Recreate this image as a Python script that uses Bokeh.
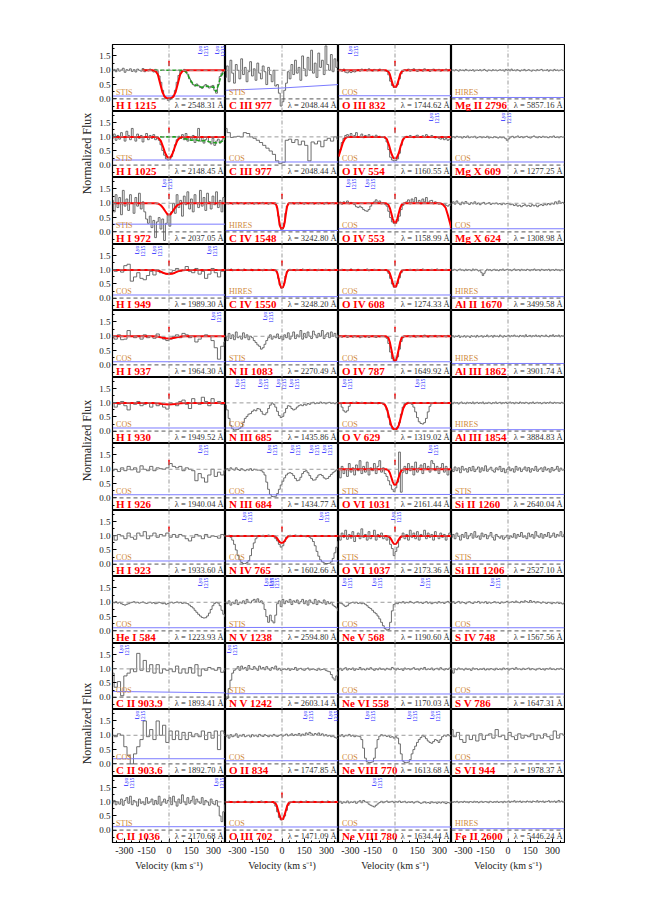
import numpy as np
from bokeh.plotting import figure
from bokeh.layouts import gridplot, row
from bokeh.models import Range1d, FixedTicker, PrintfTickFormatter, Span
from bokeh.core.properties import value
from bokeh.embed import file_html
from bokeh.resources import INLINE

# ---------------- data ----------------
V_MIN, V_MAX = -380, 380
Y_MIN, Y_MAX = -0.44, 1.9
X_TICKS = [-300, -150, 0, 150, 300]
Y_TICKS = [0.0, 0.5, 1.0, 1.5]

# model knot velocities
KN = [-380, -60, -45, -35, -25, -15, -5, 5, 15, 25, 35, 45, 60, 380]
KW = [-380, -90, -70, -55, -40, -25, -10, 10, 25, 40, 55, 70, 90, 380]
KC = [-380, -45, -35, -28, -20, -12, -5, 0, 5, 12, 20, 28, 35, 45, 380]
KB = [-380, -110, -80, -60, -40, -20, 0, 20, 40, 60, 80, 110, 380]
K1215 = [-180, -110, -90, -75, -60, -45, -30, -15, 0, 15, 30, 45, 60, 75, 90, 110, 380]
K554 = [-380, -365, -350, -335, -320, -300, -70, -55, -40, -25, -10, 10, 25, 40, 55, 70, 380]
K553 = [-380, -60, -45, -35, -25, -15, -5, 5, 15, 25, 35, 45, 60, 300, 320, 340, 355, 368, 380]

# row 1
f_h1215 = [0.98,1.03,0.95,1.05,0.97,1.01,1.07,0.93,1.02,0.99,1.05,0.96,1.02,0.94,1.04,1.00,0.97,1.06,0.95,1.01,0.98,1.04,0.99,0.94,1.03,0.97,
           0.80,0.58,0.30,0.10,0.02,-0.05,-0.03,0.05,0.12,0.30,0.58,0.82,0.97,
           0.98,1.03,0.96,0.86,0.70,0.58,0.50,0.45,0.52,0.46,0.40,0.37,0.45,0.50,0.42,0.38,0.44,0.47,0.30,0.20,0.50,0.78,0.90,0.97,1.0]
m_h1215 = [1,1,0.97,0.85,0.55,0.25,0.08,0.03,0.02,0.03,0.08,0.25,0.55,0.85,0.97,1,1]
g_h1215_v = [-180,100,120,140,160,180,200,220,240,260,280,300,315,330,350,370,380]
g_h1215 = [1,1,0.9,0.7,0.53,0.47,0.47,0.40,0.43,0.45,0.40,0.42,0.25,0.45,0.8,0.95,1.0]
f_c977s = [0.75,1.15,0.6,1.35,0.9,0.55,1.2,1.0,0.7,1.4,0.85,1.1,0.6,0.95,1.3,0.8,1.05,0.65,1.25,0.9,0.7,1.15,0.95,0.5,1.1,0.85,0.6,1.0,
           0.45,0.5,0.2,-0.25,-0.1,0.3,0.55,0.95,
           0.7,1.2,0.85,1.35,0.9,1.1,0.65,1.5,1.05,0.8,1.45,1.0,1.7,0.9,1.25,0.75,1.6,1.1,1.35,0.85,1.85,1.2,1.0,1.55,0.95,1.4,1.1,1.3]
f_o832 = [1.0,1.03,0.97,1.04,0.93,0.91,0.95,0.92,0.96,0.94,0.98,1.02,0.97,1.04,0.99,1.03,0.98,1.05,1.0,0.97,1.03,1.0,0.98,1.04,0.99,1.01,
          0.98,0.96,0.84,0.62,0.47,0.40,0.41,0.50,0.70,0.88,0.97,1.01,
          0.98,1.04,0.97,1.02,1.05,0.99,0.96,1.03,1.0,0.97,1.05,0.99,1.02,0.96,1.01,1.04,0.98,1.0,1.03,0.97,1.01,0.99,1.04,0.98,1.02,0.99]
m_o832 = [1,1,0.96,0.86,0.68,0.5,0.42,0.42,0.5,0.68,0.86,0.96,1,1]
f_mg2796 = [0.99,1.01,0.98,1.02,1.0,0.97,1.02,0.99,1.01,0.98,1.03,1.0,0.98,1.01,0.99,1.02,0.97,1.0,1.01,0.99,
            1.02,0.98,1.0,1.03,0.99,0.97,1.01,1.0,0.98,1.02,0.99,1.01,0.98,1.0,1.02,0.99,1.01,0.97,1.03,1.0,
            1.02,0.98,1.04,0.99,1.01,0.98,1.02,1.0,0.97,1.01,0.99,1.03,0.98,1.0,1.02,0.99,0.97,1.01,1.0,0.98,
            1.02,0.99,1.01,1.03,0.98,1.0,0.99,1.02,0.97,1.01,1.0,0.98,1.03,0.99,1.01,0.98,1.0,1.02,0.99,1.0]
# row 2
f_h1025 = [0.95,1.1,0.88,1.05,0.92,1.15,0.98,0.85,1.2,1.05,0.9,1.3,1.0,0.85,1.1,0.95,1.05,0.82,1.0,1.12,0.9,1.05,0.95,1.08,0.9,1.0,
           0.88,0.72,0.52,0.35,0.22,0.18,0.2,0.3,0.5,0.72,0.9,1.02,
           0.95,1.08,0.9,1.12,0.85,1.0,0.92,1.05,0.8,0.95,1.3,0.85,0.98,0.78,0.9,1.0,0.82,0.75,0.95,0.7,0.85,0.92,0.78,0.88,0.95,1.0]
m_h1025 = [1,1,0.96,0.86,0.65,0.42,0.27,0.27,0.42,0.65,0.86,0.96,1,1]
g_h1025_v = [-100,60,90,120,150,180,210,240,270,300,330,360,380]
g_h1025 = [1,1,0.95,0.92,0.88,0.9,0.85,0.87,0.83,0.8,0.78,0.85,0.95]
f_c977c = [1.3,1.15,0.98,1.0,1.02,1.0,1.15,1.12,1.0,0.95,0.88,0.8,0.7,0.6,0.5,0.38,0.15,0.05,0.1,0.88,0.92,0.8,0.9,0.72,0.85,0.7,0.15,0.82,0.75,0.85,0.65,0.88,0.95,0.85,1.0,0.92]
f_o554 = [0.35,0.55,0.8,0.95,1.05,
          1.08,1.0,1.12,0.98,1.05,1.15,1.0,1.02,1.1,0.97,1.05,1.0,1.08,0.98,1.03,1.0,1.06,0.99,1.02,0.98,1.0,
          0.95,0.82,0.55,0.28,0.18,0.15,0.16,0.22,0.42,0.7,0.9,1.0,
          1.02,0.98,1.05,1.0,0.97,1.03,1.06,1.0,0.98,1.04,1.0,1.08,1.02,0.98,1.05,1.0,0.96,0.98,0.95,0.92,0.96,0.9,0.94,0.88,0.92,0.9]
m_o554 = [0.3,0.55,0.8,0.95,1,1,1,0.92,0.7,0.42,0.24,0.24,0.42,0.7,0.92,1,1]
f_mg609 = [0.98,1.01,0.97,1.02,0.99,1.0,0.96,1.01,0.98,1.03,0.97,1.0,0.99,1.02,0.96,0.99,1.01,0.97,1.0,0.98,1.02,0.96,0.99,0.97,1.01,0.98,0.96,1.0,0.97,0.99,0.95,0.88,
           0.93,0.99,1.02,0.97,1.0,1.03,0.98,1.01,0.97,1.0,1.02,0.98,0.96,1.0,1.03,0.99,0.97,1.01,0.98,1.02,0.99,1.0,0.97,1.01,0.99,1.03,0.98,1.0,0.97,1.01,0.99,1.0]
# row 3
f_h972 = [1.1,0.7,1.3,0.85,1.2,0.6,1.45,0.9,1.15,0.75,1.3,1.0,0.65,1.2,0.9,1.35,0.8,1.05,0.7,
          0.45,0.3,0.55,0.15,0.4,-0.2,0.35,0.5,0.1,0.45,-0.3,0.3,0.6,0.2,0.7,
          1.0,0.65,1.3,0.85,1.1,0.55,1.25,0.95,1.4,0.8,1.15,0.7,1.3,1.0,0.85,1.45,0.9,1.2,0.75,1.35,1.05,0.8,1.25,0.95,1.4,0.85,1.1,0.7,1.2,1.0]
m_h972 = [1,1,0.98,0.93,0.84,0.72,0.61,0.61,0.72,0.84,0.93,0.98,1,1]
f_c1548 = [0.99,1.01,0.98,1.02,1.0,0.97,1.01,0.99,1.03,0.98,1.0,1.02,0.99,0.97,1.01,1.0,0.98,1.02,0.99,1.01,0.97,1.0,1.02,0.98,1.01,0.99,1.03,0.98,1.0,1.01,0.97,0.99,1.02,1.0,0.98,0.96,
           0.85,0.55,0.22,0.08,0.1,0.3,0.65,0.9,
           0.98,1.01,0.99,1.02,0.97,1.0,1.01,0.98,1.03,0.99,1.0,0.97,1.02,1.0,0.98,1.01,0.99,1.02,0.97,1.0,1.01,0.98,1.02,0.99,1.0,0.97,1.01,1.03,0.98,1.0,0.99,1.02,0.98,1.01,0.99,1.0]
m_c1548 = [1,1,0.9,0.7,0.4,0.18,0.13,0.12,0.13,0.18,0.4,0.7,0.9,1,1]
f_o553 = [1.0,1.04,0.97,1.05,1.0,1.08,0.98,1.03,1.0,
          0.95,0.88,0.85,0.9,0.85,0.78,0.74,0.72,0.78,0.9,1.0,1.05,1.12,1.0,1.08,0.98,1.02,
          0.97,0.9,0.72,0.5,0.35,0.3,0.3,0.38,0.55,0.78,0.93,1.0,
          1.05,1.12,0.98,1.15,1.05,1.2,1.0,1.1,0.98,1.15,1.05,1.2,1.0,1.08,1.1,0.98,1.05,1.02,0.97,1.0,0.95,0.98,0.93,0.9,0.95,0.92]
m_o553 = [1,1,0.95,0.84,0.65,0.45,0.32,0.32,0.45,0.65,0.84,0.95,1,1,0.97,0.85,0.6,0.35,0.12]
f_mg624 = [1.0,1.05,0.97,1.08,1.0,0.95,1.04,0.98,1.06,1.0,0.96,1.02,0.98,1.05,0.97,1.01,0.95,1.0,1.03,0.97,0.99,1.02,0.96,1.0,0.98,1.01,0.97,0.99,0.95,1.0,0.97,0.99,
           0.98,0.95,0.97,0.92,0.95,0.9,0.93,0.88,0.92,0.95,0.9,0.93,0.89,0.95,0.91,0.94,0.88,0.93,0.96,0.92,0.97,0.94,0.99,0.95,1.0,0.97,1.05,0.98,1.08,1.0,1.03,0.98]
# row 4
f_h949 = [0.98,0.95,1.0,0.92,1.15,1.2,0.6,0.75,0.9,0.7,0.65,0.8,0.95,0.82,1.0,0.9,0.88,0.85,0.9,0.98,1.05,0.95,1.0,1.12,0.95,0.9,1.05,0.85,0.95,0.7,0.85,1.05,0.9,0.75,0.95,1.0]
m_h949 = [1,1,0.98,0.95,0.9,0.86,0.85,0.86,0.9,0.95,0.98,1,1]
f_c1550 = [1.0,0.98,1.02,0.99,1.03,0.97,1.01,1.0,0.98,1.02,0.99,1.01,0.97,1.03,1.0,0.98,1.01,0.99,1.02,0.97,1.0,1.01,0.98,1.02,0.99,1.0,0.97,1.02,0.99,1.01,0.98,1.0,1.02,0.99,0.97,0.98,
           0.9,0.7,0.47,0.35,0.37,0.52,0.78,0.93,
           0.99,1.02,0.98,1.0,1.01,0.97,1.02,0.99,1.0,0.98,1.03,0.99,1.01,0.97,1.0,1.02,0.98,1.01,0.99,1.0,0.97,1.02,0.99,1.01,0.98,1.0,1.02,0.99,1.01,0.97,1.0,0.99,1.02,0.98,1.0,1.01]
m_c1550 = [1,1,0.94,0.82,0.62,0.45,0.38,0.37,0.38,0.45,0.62,0.82,0.94,1,1]
f_o608 = [1.0,0.98,1.02,0.99,1.01,0.97,1.0,1.03,0.98,1.0,0.97,1.02,0.99,1.01,0.98,1.0,1.03,0.97,1.0,0.99,1.02,0.98,1.01,0.99,1.0,0.98,
          0.99,0.97,0.88,0.7,0.5,0.39,0.4,0.52,0.72,0.9,0.98,1.0,
          1.01,0.98,1.02,0.99,1.0,0.97,1.02,1.0,0.98,1.03,1.0,0.99,1.01,0.98,1.02,1.0,0.99,1.03,0.98,1.01,1.0,0.98,1.02,0.99,1.01,1.0]
m_o608 = [1,1,0.97,0.88,0.72,0.54,0.4,0.4,0.54,0.72,0.88,0.97,1,1]
f_al1670 = [1.0,0.98,1.02,1.0,0.97,1.01,1.03,0.99,1.0,0.97,1.02,0.98,1.01,1.0,0.97,1.03,0.99,1.02,1.0,0.96,0.98,0.9,0.8,0.88,0.97,1.02,0.99,1.01,0.97,1.0,
            1.02,0.98,1.0,0.97,1.01,0.99,1.03,0.98,1.0,1.02,0.99,1.01,0.97,1.0,1.03,0.98,1.0,1.01,0.97,1.02,0.99,1.0,0.98,1.02,1.0,0.97,1.01,0.99,1.03,0.98,
            1.0,1.01,0.97,1.02,1.0,0.98,1.01,0.99,1.02,0.97,1.0,1.01,0.98,1.02,0.99,1.0,0.97,1.01,0.99,1.0]
# row 5
f_h937 = [0.95,0.9,1.05,0.88,0.9,1.2,1.0,0.95,1.02,0.9,1.05,0.95,1.0,0.93,1.08,0.95,0.9,0.85,0.9,1.0,1.05,0.95,1.1,1.05,0.95,1.0,0.8,0.9,1.0,1.05,1.0,0.85,0.6,0.2,0.65,0.8]
m_h937 = [1,1,0.99,0.97,0.95,0.93,0.92,0.93,0.95,0.97,0.99,1,1]
f_n1083 = [1.0,0.85,1.1,0.92,1.05,0.88,1.15,0.95,1.0,0.9,1.12,0.95,1.05,0.88,1.0,0.95,0.85,0.78,0.7,0.65,0.55,0.6,0.72,0.85,0.95,1.05,0.9,1.0,0.95,1.08,0.92,1.0,
           0.88,1.05,0.95,1.12,0.9,1.0,1.15,0.92,1.05,0.98,1.2,0.9,1.1,0.95,1.15,1.0,0.92,1.18,1.05,0.95,1.1,1.0,1.2,0.92,1.05,1.12,0.95,1.15,1.0,1.1,0.95,1.05]
f_o787 = [0.98,1.02,0.97,1.0,1.03,0.96,0.99,1.01,0.97,1.02,0.98,1.0,0.95,0.98,1.01,0.97,1.0,0.96,0.99,1.02,0.98,0.96,1.0,0.98,1.01,0.99,
          0.98,0.93,0.75,0.45,0.22,0.13,0.15,0.28,0.55,0.82,0.95,1.0,
          0.99,1.02,0.98,1.0,1.03,0.97,1.01,0.99,1.02,0.98,1.04,1.0,0.97,1.02,0.99,1.01,1.03,0.98,1.0,1.02,0.99,1.01,0.98,1.03,1.0,1.02]
m_o787 = [1,1,0.95,0.8,0.55,0.3,0.16,0.16,0.3,0.55,0.8,0.95,1,1]
f_al1862 = [0.98,1.02,0.97,1.01,0.99,1.03,0.96,1.0,0.98,1.02,0.97,1.01,1.0,0.96,1.02,0.99,1.01,0.97,1.03,0.98,1.0,1.02,0.97,1.01,0.99,1.04,0.98,1.0,1.02,0.97,
            1.03,0.99,1.01,0.98,1.04,1.0,0.97,1.02,0.99,1.01,1.03,0.98,1.02,1.0,1.04,0.99,1.01,0.98,1.03,1.0,1.02,0.98,1.05,0.99,1.01,1.03,0.98,1.02,1.0,1.04,
            0.99,1.02,0.98,1.03,1.01,0.99,1.04,1.0,0.98,1.03,1.01,1.05,0.99,1.02,1.0,1.04,0.98,1.02,1.0,1.03]
# row 6
f_h930 = [1.0,0.85,0.95,1.05,0.9,0.75,1.0,0.95,1.05,0.9,0.95,1.0,0.85,1.0,0.9,0.95,0.85,0.78,1.0,0.95,0.9,1.05,1.1,0.95,0.8,1.15,1.0,0.95,1.2,1.05,0.9,1.15,1.0,1.05,0.95,1.0]
m_h930 = [1,1,0.99,0.98,0.96,0.95,0.94,0.95,0.96,0.98,0.99,1,1]
f_n685 = [0.92,0.75,0.45,0.2,0.08,0.04,0.05,0.06,0.1,0.15,0.3,0.45,0.52,0.6,0.62,0.7,0.75,0.72,0.8,0.78,0.7,0.6,0.58,0.65,0.8,0.92,1.0,0.95,0.85,0.7,0.55,0.48,
          0.52,0.65,0.8,0.9,0.88,0.8,0.75,0.78,0.85,0.9,0.93,0.9,0.95,0.92,0.98,0.95,1.0,1.02,0.97,1.0,0.98,1.03,0.99,1.01,0.97,1.0,1.02,0.98,1.0,0.97,1.01,0.99]
f_o629 = [1.0,0.97,0.85,0.72,0.67,0.72,0.88,0.98,1.02,0.99,1.03,1.0,0.98,1.02,1.0,0.97,1.01,0.99,1.02,0.98,1.0,1.01,0.97,1.0,0.98,0.96,
          0.9,0.75,0.48,0.22,0.08,0.05,0.06,0.12,0.3,0.6,0.85,0.97,
          1.0,1.02,0.98,0.95,0.85,0.68,0.48,0.33,0.27,0.25,0.3,0.45,0.68,0.88,0.97,1.0,1.02,0.99,1.01,0.98,1.0,1.02,0.99,1.01,1.0,0.98]
m_o629 = [1,1,0.95,0.8,0.5,0.2,0.07,0.07,0.2,0.5,0.8,0.95,1,1]
f_al1854 = [1.0,0.97,1.02,0.99,1.01,0.96,1.0,1.03,0.98,1.0,0.97,1.02,0.99,1.01,0.98,1.03,0.97,1.0,1.02,0.98,1.01,0.99,1.03,0.97,1.0,0.98,1.02,1.0,0.97,1.01,
            0.99,1.03,0.98,1.0,1.02,0.97,1.01,0.99,1.02,0.98,1.0,1.03,0.99,1.01,0.97,1.02,1.0,0.98,1.03,0.99,1.01,0.98,1.02,1.0,0.97,1.01,0.99,1.03,0.98,1.0,
            1.02,0.99,1.01,0.97,1.0,1.02,0.98,1.01,0.99,1.03,1.0,0.98,1.02,0.99,1.01,1.0,0.98,1.02,0.99,1.0]
# row 7
f_h926 = [0.95,1.0,0.92,1.05,0.95,1.1,0.98,1.05,0.9,1.12,1.0,0.95,1.1,0.95,1.05,1.02,1.0,1.05,1.2,1.1,1.05,1.1,0.95,1.05,1.0,0.95,0.6,0.85,0.7,0.55,0.8,1.0,0.75,0.9,0.8,0.95]
f_n684 = [0.98,1.02,0.95,1.05,1.0,0.97,1.05,0.99,0.96,1.02,0.98,0.95,0.99,0.97,1.02,0.96,1.0,0.98,0.97,0.97,0.95,0.9,
          0.8,0.55,0.3,0.12,0.05,0.04,0.06,0.15,0.3,0.45,0.58,0.7,0.8,0.86,
          0.88,0.85,0.78,0.68,0.6,0.62,0.72,0.85,0.92,0.95,0.88,0.78,0.68,0.62,0.63,0.72,0.8,0.82,0.78,0.7,0.66,0.68,0.75,0.82,0.88,0.93,0.98,1.0]
f_o1031 = [0.95,0.7,1.1,0.85,1.0,0.75,1.2,0.9,1.05,0.8,1.15,0.95,1.3,0.85,1.1,0.9,1.25,0.8,1.05,0.95,1.2,0.85,1.1,1.3,0.9,1.05,
           0.85,0.75,0.6,0.45,0.3,0.22,0.35,0.55,1.6,0.2,0.9,1.1,
           0.85,1.2,0.95,1.1,0.8,1.25,0.9,1.05,1.15,0.85,1.2,1.0,1.1,0.9,1.3,1.2,0.95,1.1,0.85,1.05,1.2,0.9,1.1,0.8,1.0,0.95]
m_o1031 = [1,1,0.97,0.88,0.72,0.56,0.46,0.46,0.56,0.72,0.88,0.97,1,1]
f_si1260 = [1.0,0.92,1.08,0.95,1.05,0.88,1.1,0.97,1.02,0.9,1.06,0.95,1.1,0.92,1.0,1.08,0.9,1.05,0.95,1.12,0.93,1.0,1.07,0.95,0.9,1.05,0.98,1.1,0.92,1.03,0.88,1.0,
            1.08,0.95,1.02,0.9,1.1,0.97,1.05,0.92,1.0,1.08,0.94,1.06,0.9,1.02,0.96,1.1,0.93,1.0,1.05,0.92,1.08,0.97,1.02,0.9,1.06,0.95,1.0,1.1,0.93,1.04,0.97,1.0]
# row 8
f_h923 = [1.0,0.85,1.05,1.0,0.9,1.1,0.95,0.88,1.1,1.0,1.15,0.9,1.0,1.1,0.95,1.05,1.0,1.1,0.95,1.05,0.95,1.05,1.0,0.9,0.82,0.95,1.05,1.0,0.9,1.05,0.95,1.0,0.98,0.92,1.05,1.0]
f_n765 = [1.0,0.98,1.02,0.95,0.85,0.7,0.5,0.3,0.15,0.06,0.02,0.02,0.05,0.12,0.3,0.55,0.75,0.9,0.97,1.0,0.98,1.02,0.97,1.0,1.03,0.98,1.0,0.97,0.9,0.82,0.7,0.6,
          0.65,0.8,0.95,1.0,1.02,0.98,1.0,1.03,0.98,1.0,1.02,0.98,1.0,0.97,1.0,0.95,0.9,0.8,0.65,0.45,0.28,0.15,0.08,0.04,0.02,0.02,0.03,0.08,0.2,0.4,0.6,0.8]
m_n765 = [1,1,0.98,0.93,0.85,0.78,0.75,0.76,0.8,0.88,0.95,0.99,1,1]
f_o1037 = [1.0,0.85,1.1,0.95,1.2,0.88,1.05,0.92,1.15,0.8,1.0,1.1,0.9,1.25,0.95,1.05,0.85,1.15,0.9,1.0,1.2,0.85,1.05,0.95,1.1,0.9,
           1.0,0.85,0.95,0.7,0.55,0.3,0.45,0.6,0.85,0.95,1.1,0.9,
           1.05,0.85,1.2,0.95,1.1,0.9,1.15,0.85,1.05,1.0,1.2,0.9,1.1,0.95,1.05,0.85,1.15,1.0,0.9,1.1,0.95,1.05,0.85,1.0,1.1,0.95]
m_o1037 = [1,1,0.99,0.95,0.87,0.77,0.71,0.71,0.77,0.87,0.95,0.99,1,1]
f_si1206 = [0.95,1.05,0.9,1.1,0.98,0.85,1.05,0.95,1.12,0.9,1.0,1.08,0.92,1.15,0.95,1.0,0.88,1.1,0.97,1.05,0.9,1.0,1.12,0.95,0.85,1.05,0.98,0.92,1.0,0.88,0.95,1.02,
            0.9,1.0,0.95,1.08,0.92,1.05,0.98,1.12,0.95,1.0,0.9,1.1,0.97,1.05,0.92,1.15,1.0,0.95,1.08,0.92,1.05,0.98,1.12,0.94,1.0,1.1,0.95,1.05,1.0,1.15,0.97,1.05]
# row 9
f_he584 = [1.0,0.98,1.02,0.97,1.0,0.95,0.92,0.9,0.93,0.95,0.98,1.0,1.02,0.98,1.0,0.97,0.99,1.01,0.98,0.96,0.98,1.0,0.97,0.99,0.95,0.97,1.0,0.98,0.95,0.97,0.93,0.96,
           0.98,1.0,0.97,0.99,1.01,0.98,1.0,0.96,0.98,0.97,0.95,0.9,0.85,0.8,0.72,0.65,0.58,0.52,0.47,0.45,0.46,0.52,0.62,0.75,0.88,0.96,1.0,0.97,0.88,0.72,0.58,0.5]
f_n1238 = [1.0,0.95,1.05,0.9,1.0,0.95,1.08,0.92,1.0,0.97,1.05,0.95,1.1,1.0,0.98,1.05,1.1,1.02,1.12,1.0,1.05,
           0.95,0.75,0.5,0.3,0.55,0.35,0.28,0.55,0.95,1.05,0.85,1.1,
           0.95,1.05,1.0,1.1,0.92,1.05,1.0,1.08,0.95,1.02,1.1,0.95,1.05,0.9,1.08,1.0,0.95,1.1,0.92,1.05,1.0,0.97,1.08,0.93,1.02,0.95,1.0,0.9,0.85,0.8,0.7]
f_ne568 = [1.0,0.97,0.95,0.9,0.85,0.88,0.95,0.98,1.0,0.97,1.0,0.96,0.98,0.95,0.97,0.93,0.88,0.82,0.78,0.72,0.65,0.6,0.52,0.42,0.3,0.18,0.08,0.03,0.05,0.3,0.7,0.92,
           0.97,0.95,1.0,0.98,1.02,0.97,1.0,0.98,1.03,0.99,0.97,1.0,1.02,0.98,1.0,0.96,0.99,1.02,0.97,1.0,0.95,0.98,1.0,0.97,1.02,0.98,1.0,0.96,1.0,1.03,0.98,1.0]
f_s748 = [0.98,1.02,0.96,1.0,1.03,0.97,1.01,0.99,0.95,1.0,1.02,0.98,0.96,1.01,0.99,1.03,0.97,1.0,0.98,1.02,0.96,1.0,0.97,0.99,1.02,0.98,1.0,0.96,1.01,0.98,1.0,1.03,
          0.98,1.0,1.02,0.99,1.04,1.0,0.98,1.03,1.0,1.05,1.02,0.99,1.06,1.0,1.03,0.98,1.02,1.0,0.97,1.01,0.99,0.96,1.0,0.98,0.95,0.99,0.97,1.0,0.96,0.98,0.94,0.97]
# row 10
f_c9039 = [0.85,0.35,0.55,0.05,0.75,0.85,1.0,0.9,1.55,0.95,1.3,0.9,1.15,0.85,1.15,0.85,1.0,0.95,1.0,0.9,1.1,0.85,1.0,0.85,1.05,0.85,1.15,0.75,1.0,0.95,1.05,1.0,0.95,1.05,0.88,0.95]
f_n1242 = [-0.1,-0.05,0.3,0.6,0.85,0.95,
           1.0,1.08,0.95,1.1,1.0,1.05,0.95,1.12,1.0,0.98,1.08,1.02,0.95,1.1,1.0,1.05,0.97,1.08,1.0,0.95,1.05,1.0,1.1,0.96,1.02,0.95,0.98,1.0,0.97,1.02,0.95,1.0,0.98,1.05,
           0.95,1.0,1.02,0.97,0.95,1.0,1.03,0.96,0.98,1.0,0.97,0.95,1.02,0.96,0.98,1.0,0.95,
           0.92,0.9,0.8,0.68,0.6,0.75,0.9]
f_ne558 = [0.97,1.02,0.95,1.0,1.04,0.96,1.01,0.98,1.03,0.95,1.0,0.98,1.05,0.97,1.0,0.96,1.02,0.98,1.04,0.99,0.95,1.01,0.97,1.03,0.98,1.0,0.96,1.02,0.99,0.97,1.05,1.0,
           0.96,1.02,0.98,1.0,0.95,1.03,0.99,1.01,0.97,1.0,1.04,0.98,1.0,0.96,1.02,0.99,1.05,0.97,1.0,0.98,1.03,0.96,1.0,1.02,0.97,1.04,0.99,0.96,1.01,0.98,1.03,1.0]
f_s786 = [0.95,0.85,1.0,0.97,1.03,0.99,1.0,0.96,1.02,0.98,1.0,0.95,1.03,0.99,1.01,0.97,1.0,0.98,1.02,0.96,1.0,0.97,1.01,0.99,0.96,1.02,0.98,1.0,0.97,1.03,0.99,1.01,
          0.96,1.0,1.02,0.98,1.04,0.99,1.0,0.97,1.02,0.98,1.0,1.03,0.97,1.01,0.99,0.96,1.0,1.02,0.98,1.0,0.96,1.01,0.99,1.03,0.98,1.0,0.97,1.01,0.99,1.02,0.98,1.0]
# row 11
f_c9036 = [1.0,0.95,1.05,1.0,0.6,0.3,0.0,0.35,0.6,0.85,1.5,0.95,1.2,0.85,1.5,1.0,1.35,0.75,1.15,0.85,1.15,0.85,1.1,0.85,1.1,0.95,1.05,0.95,1.15,0.85,1.1,0.9,1.15,0.5,1.15,1.05]
f_o834 = [0.95,1.0,0.9,1.02,0.95,0.98,1.05,0.93,1.0,0.97,1.03,0.95,0.98,1.0,0.94,1.02,0.97,1.0,0.95,1.03,0.98,0.96,1.02,0.99,0.95,1.0,0.97,1.03,0.98,0.96,1.0,1.02,
          0.97,1.0,1.04,0.98,1.01,1.05,0.99,1.03,1.0,1.06,0.98,1.04,1.0,1.08,1.02,1.1,1.05,1.0,1.06,1.02,1.08,1.0,1.05,0.98,1.02,0.97,1.0,0.95,0.98,0.93,0.9,0.88]
f_ne770 = [1.0,0.97,1.02,0.95,1.0,0.98,1.03,0.97,1.0,0.95,0.98,0.97,0.95,0.85,0.55,0.2,0.07,0.05,0.05,0.07,0.2,0.55,0.85,0.97,1.02,0.98,1.0,0.96,0.98,0.93,0.95,0.9,
           0.95,0.9,0.7,0.35,0.1,0.05,0.04,0.06,0.15,0.35,0.5,0.62,0.75,0.85,0.92,1.0,0.95,0.88,0.8,0.75,0.72,0.78,0.85,0.82,0.75,0.85,0.95,1.0,0.97,1.02,0.98,1.0]
f_s944 = [1.2,0.95,1.1,0.85,0.75,1.0,0.85,1.0,0.8,1.05,0.85,1.0,1.05,0.9,1.2,0.95,1.0,0.85,1.1,0.95,0.85,1.05,0.9,1.0,0.95,1.05,0.85,1.0,0.9,1.05,0.95,0.85,1.15,0.9,1.05,1.0]
# row 12
f_c1036 = [0.95,1.05,0.9,1.0,0.92,1.1,0.88,1.05,1.15,0.95,1.2,0.9,1.05,1.0,0.85,1.1,0.95,1.0,0.9,1.15,0.95,1.0,1.1,0.9,1.05,0.92,1.2,0.88,1.0,1.1,0.95,1.05,
           1.15,0.9,1.2,1.0,0.85,1.1,0.95,1.25,1.0,0.9,1.15,0.95,1.05,1.2,0.92,1.1,1.0,0.95,1.15,0.9,1.05,1.0,0.88,1.1,0.95,0.9,1.05,0.85,0.5,0.3,0.65,0.9]
f_o702 = [1.0,0.98,1.02,0.99,1.01,0.97,1.0,1.02,0.98,1.01,0.99,1.03,0.98,1.0,0.97,1.02,0.99,1.01,0.98,1.0,1.03,0.99,0.97,1.01,1.0,0.98,
          0.99,0.96,0.85,0.65,0.45,0.36,0.38,0.5,0.7,0.88,0.97,1.0,
          1.02,0.98,1.0,0.97,1.02,0.99,1.01,1.03,0.98,1.0,0.99,1.02,0.98,1.01,1.0,0.97,1.02,0.99,1.01,1.03,0.98,1.0,1.02,0.99,1.01,1.0]
m_o702 = [1,1,0.96,0.86,0.68,0.5,0.38,0.38,0.5,0.68,0.86,0.96,1,1]
f_ne780 = [0.98,1.02,0.95,1.0,0.97,1.03,0.96,1.0,0.98,1.02,0.95,1.0,1.04,0.97,1.05,1.0,0.98,0.92,0.88,0.85,0.82,0.88,0.93,0.98,1.02,0.97,1.0,1.03,0.98,1.0,1.02,0.97,
           1.01,0.99,1.03,0.98,1.0,1.02,0.97,1.0,0.98,1.01,0.96,1.0,1.02,0.98,0.95,0.97,1.0,0.96,0.98,0.95,1.0,0.97,0.99,0.95,0.98,0.96,1.0,0.97,0.94,0.98,0.96,0.99]
f_fe2600 = [1.0,0.98,1.01,0.99,1.02,0.97,1.0,1.01,0.98,1.02,0.99,1.0,0.97,1.01,1.0,0.98,1.02,0.99,1.01,0.97,1.0,1.02,0.98,1.0,1.01,0.99,0.97,1.02,1.0,0.98,
            1.01,0.99,1.02,0.98,1.0,1.01,0.97,1.02,0.99,1.0,1.03,0.98,1.02,1.0,1.04,0.99,1.02,1.0,1.03,0.98,1.02,1.01,0.99,1.03,1.0,1.02,0.98,1.03,1.01,1.0,
            1.04,0.99,1.02,1.0,1.03,0.98,1.02,1.01,1.04,0.99,1.02,1.0,1.03,0.98,1.02,1.05,1.0,1.03,0.99,1.02]

# error spectra (left, right)
E_STIS = [0.12, 0.12]
E_COS = [0.11, 0.11]
E_HIRES = [0.05, 0.05]

ions = [
 ["H I 1215", "C III 977", "O III 832", "Mg II 2796"],
 ["H I 1025", "C III 977", "O IV 554", "Mg X 609"],
 ["H I 972", "C IV 1548", "O IV 553", "Mg X 624"],
 ["H I 949", "C IV 1550", "O IV 608", "Al II 1670"],
 ["H I 937", "N II 1083", "O IV 787", "Al III 1862"],
 ["H I 930", "N III 685", "O V 629", "Al III 1854"],
 ["H I 926", "N III 684", "O VI 1031", "Si II 1260"],
 ["H I 923", "N IV 765", "O VI 1037", "Si III 1206"],
 ["He I 584", "N V 1238", "Ne V 568", "S IV 748"],
 ["C II 903.9", "N V 1242", "Ne VI 558", "S V 786"],
 ["C II 903.6", "O II 834", "Ne VIII 770", "S VI 944"],
 ["C II 1036", "O III 702", "Ne VIII 780", "Fe II 2600"],
]
lambdas = [
 ["2548.31", "2048.44", "1744.62", "5857.16"],
 ["2148.45", "2048.44", "1160.55", "1277.25"],
 ["2037.05", "3242.80", "1158.99", "1308.98"],
 ["1989.30", "3248.20", "1274.33", "3499.58"],
 ["1964.30", "2270.49", "1649.92", "3901.74"],
 ["1949.52", "1435.86", "1319.02", "3884.83"],
 ["1940.04", "1434.77", "2161.44", "2640.04"],
 ["1933.60", "1602.66", "2173.36", "2527.10"],
 ["1223.93", "2594.80", "1190.60", "1567.56"],
 ["1893.41", "2603.14", "1170.03", "1647.31"],
 ["1892.70", "1747.85", "1613.68", "1978.37"],
 ["2170.68", "1471.09", "1634.44", "5446.24"],
]
instruments = [
 ["STIS", "STIS", "COS", "HIRES"],
 ["STIS", "COS", "COS", "COS"],
 ["STIS", "HIRES", "COS", "COS"],
 ["COS", "HIRES", "COS", "HIRES"],
 ["COS", "STIS", "COS", "HIRES"],
 ["COS", "COS", "COS", "HIRES"],
 ["COS", "COS", "STIS", "STIS"],
 ["COS", "COS", "STIS", "STIS"],
 ["COS", "STIS", "COS", "COS"],
 ["COS", "STIS", "COS", "COS"],
 ["COS", "COS", "COS", "COS"],
 ["STIS", "COS", "COS", "HIRES"],
]
fluxes = [
 [f_h1215, f_c977s, f_o832, f_mg2796],
 [f_h1025, f_c977c, f_o554, f_mg609],
 [f_h972, f_c1548, f_o553, f_mg624],
 [f_h949, f_c1550, f_o608, f_al1670],
 [f_h937, f_n1083, f_o787, f_al1862],
 [f_h930, f_n685, f_o629, f_al1854],
 [f_h926, f_n684, f_o1031, f_si1260],
 [f_h923, f_n765, f_o1037, f_si1206],
 [f_he584, f_n1238, f_ne568, f_s748],
 [f_c9039, f_n1242, f_ne558, f_s786],
 [f_c9036, f_o834, f_ne770, f_s944],
 [f_c1036, f_o702, f_ne780, f_fe2600],
]
errors_special = {(0, 1): [0.3, 0.38, 0.5], (0, 0): [0.1, 0.1], (2, 0): [0.27, 0.27],
                  (1, 0): [0.18, 0.18], (9, 0): [0.2, 0.15], (10, 0): [0.18, 0.18]}
models = {
 (0, 0): (K1215, m_h1215), (1, 0): (KW, m_h1025), (2, 0): (KW, m_h972), (3, 0): (KB, m_h949),
 (4, 0): (KB, m_h937), (5, 0): (KB, m_h930), (2, 1): (KC, m_c1548), (3, 1): (KC, m_c1550),
 (0, 2): (KN, m_o832), (1, 2): (K554, m_o554), (2, 2): (K553, m_o553), (3, 2): (KN, m_o608),
 (4, 2): (KN, m_o787), (5, 2): (KW, m_o629), (6, 2): (KN, m_o1031), (7, 2): (KN, m_o1037),
 (7, 1): (KN, m_n765), (11, 1): (KN, m_o702),
}
greens = {(0, 0): (g_h1215_v, g_h1215), (1, 0): (g_h1025_v, g_h1025)}
ticks = set(list(models.keys()) + [(6, 0), (7, 0)])
blends = {
 (0, 0): [227, 340], (0, 2): [-285], (1, 2): [265], (1, 3): [-12], (2, 0): [-15],
 (2, 2): [-293, -170], (3, 0): [-194, -82, 288], (4, 0): [315], (4, 1): [-96],
 (5, 1): [-281, -131, -5, 84], (5, 2): [-321, 167], (6, 0): [232], (6, 1): [-69, 89, 212, 301],
 (6, 2): [257], (7, 1): [-237, 280], (7, 2): [5], (8, 0): [232], (8, 1): [-90, -55],
 (8, 2): [-326, -124, 200], (8, 3): [-89], (9, 0): [-306], (9, 1): [-333], (10, 0): [-194],
 (10, 1): [178, 340], (10, 2): [-169, 111, 268], (11, 0): [-268, 338], (11, 2): [-124],
}
BLEND_TEXT = "Ly\u03b1\n1215"

# ---------------- layout ----------------
FONT = "Liberation Serif"
FRAME_W = 113
ROW_H = [67, 66, 67, 66, 67, 66, 67, 66, 67, 66, 67, 66]
LEFT_B = 16
TOP_B = 44
BOT_B = 34
LABEL_W = 96
TOTAL_H = TOP_B + sum(ROW_H) + BOT_B

inst_color = "#d08a3c"


def make_panel(r, c):
    has_y = c == 0
    has_x = r == 11
    w = FRAME_W + (LEFT_B if has_y else 0) + (1 if c == 3 else 0)
    h = ROW_H[r] + (TOP_B if r == 0 else 0) + (BOT_B if has_x else 0)
    p = figure(width=w, height=h, x_range=Range1d(V_MIN, V_MAX), y_range=Range1d(Y_MIN, Y_MAX),
               toolbar_location=None, output_backend="svg",
               x_axis_location="below" if has_x else None,
               y_axis_location="left" if has_y else None,
               min_border_left=LEFT_B if has_y else 0, min_border_right=1 if c == 3 else 0,
               min_border_top=TOP_B if r == 0 else 0, min_border_bottom=BOT_B if has_x else 0)
    p.outline_line_color = "black"
    p.outline_line_width = 1.2
    p.background_fill_color = "white"
    p.border_fill_color = "white"
    p.grid.grid_line_color = None
    if has_y:
        ax = p.yaxis[0]
        ax.ticker = FixedTicker(ticks=Y_TICKS, minor_ticks=[-0.25, 0.25, 0.75, 1.25, 1.75])
        ax.formatter = PrintfTickFormatter(format="%.1f")
        ax.major_tick_in = 4
        ax.major_tick_out = 0
        ax.minor_tick_in = 2
        ax.minor_tick_out = 0
        ax.major_label_standoff = 2
        ax.major_label_text_font = FONT
        ax.major_label_text_font_size = "9px"
        ax.major_label_text_color = "#222222"
    if has_x:
        ax = p.xaxis[0]
        ax.ticker = FixedTicker(ticks=X_TICKS, minor_ticks=list(range(-350, 351, 50)))
        ax.formatter = PrintfTickFormatter(format="%d")
        ax.major_tick_in = 4
        ax.major_tick_out = 0
        ax.minor_tick_in = 2
        ax.minor_tick_out = 0
        ax.major_label_standoff = 4
        ax.major_label_text_font = FONT
        ax.major_label_text_font_size = "10px"
        ax.major_label_text_color = "#222222"
        ax.axis_label = "Velocity (km s\u207b\u00b9)"
        ax.axis_label_text_font = FONT
        ax.axis_label_text_font_size = "10px"
        ax.axis_label_text_font_style = "normal"
        ax.axis_label_standoff = 3
        ax.axis_label_text_color = "#222222"

    # reference lines
    p.add_layout(Span(location=1.0, dimension="width", line_color="#9a9a9a", line_dash="4 3", line_width=1))
    p.add_layout(Span(location=0.0, dimension="width", line_color="#555555", line_dash="4 3", line_width=1))
    p.add_layout(Span(location=0.0, dimension="height", line_color="#9a9a9a", line_dash="4 2 1 2", line_width=1))

    flux = fluxes[r][c]
    inst = instruments[r][c]
    v = np.linspace(V_MIN, V_MAX, len(flux))
    p.step(v, flux, mode="center", line_color="#5c5c5c", line_width=0.9)

    err = errors_special.get((r, c), E_HIRES if inst == "HIRES" else (E_STIS if inst == "STIS" else E_COS))
    p.line(np.linspace(V_MIN, V_MAX, len(err)), err, line_color="#7b7bff", line_width=1)

    if (r, c) in greens:
        gv, gf = greens[(r, c)]
        p.line(gv, gf, line_color="#1fa01f", line_width=1.6, line_dash="4 2")
    if (r, c) in models:
        kv, kf = models[(r, c)]
        p.line(kv, kf, line_color="#ff0000", line_width=2)
    if (r, c) in ticks:
        p.segment(x0=[0], y0=[1.15], x1=[0], y1=[1.33], line_color="#ff0000", line_width=1.6)
    if (r, c) in blends:
        bv = blends[(r, c)]
        p.text(x=bv, y=[1.86] * len(bv), text=[BLEND_TEXT] * len(bv), angle=np.pi / 2,
               text_align="right", text_baseline="middle", text_color="#1a1aff",
               text_font=value(FONT), text_font_size="5.5px", text_line_height=1.0)

    p.text(x=[-356], y=[0.22], text=[inst], text_color=inst_color, text_font=value(FONT),
           text_font_size="8px", text_baseline="middle", text_align="left")
    p.text(x=[-356], y=[-0.22], text=[ions[r][c]], text_color="#ff0000", text_font=value(FONT),
           text_font_style="bold", text_font_size="11px", text_baseline="middle", text_align="left")
    p.text(x=[368], y=[-0.22], text=["\u03bb = " + lambdas[r][c] + " \u00c5"], text_color="#333333",
           text_font=value(FONT), text_font_size="8.5px", text_baseline="middle", text_align="right")
    return p


children = [[make_panel(r, c) for c in range(4)] for r in range(12)]
grid = gridplot(children, toolbar_location=None)

# y-axis titles in their own strip
YLABEL_CENTERS = [153, 440, 723]
lab = figure(width=LABEL_W, height=TOTAL_H, x_range=Range1d(0, LABEL_W), y_range=Range1d(0, TOTAL_H),
             toolbar_location=None, output_backend="svg", min_border=0,
             x_axis_location=None, y_axis_location=None)
lab.outline_line_color = None
lab.grid.grid_line_color = None
lab.text(x=[86] * 3, y=[TOTAL_H - yc for yc in YLABEL_CENTERS], text=["Normalized Flux"] * 3,
         angle=np.pi / 2, text_align="center", text_baseline="middle", text_color="#222222",
         text_font=value(FONT), text_font_size="12px")

layout = row(lab, grid)
open("out.html", "w").write(file_html(layout, INLINE))
